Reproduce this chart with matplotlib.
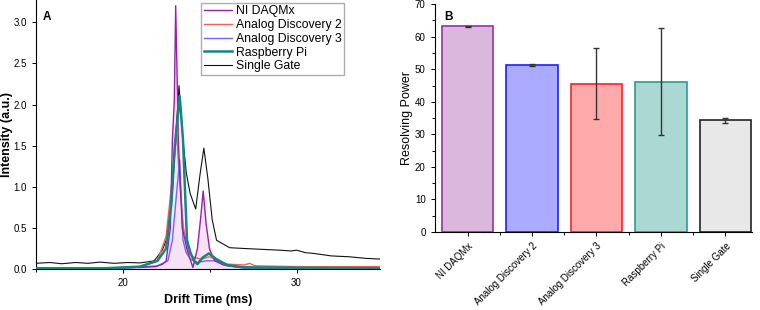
import numpy as np
import matplotlib
matplotlib.use("Agg")
from matplotlib import pyplot as plt
from matplotlib.ticker import MultipleLocator, FixedLocator

plt.rcParams['font.family'] = ['Liberation Sans', 'DejaVu Sans']

# --- panel A: drift time spectra ---
ni_t = [15, 18, 21, 21.9, 22.3, 22.5, 22.74, 22.86, 22.97, 23.05, 23.16, 23.2, 23.43, 23.7, 24.04,
        24.3, 24.5, 24.63, 24.8, 25.0, 25.3, 25.8, 26.5, 28, 35]
ni_i = [0.01, 0.01, 0.02, 0.03, 0.06, 0.1, 0.5, 1.57, 2.05, 3.2, 2.05, 1.57, 0.5, 0.24, 0.02,
        0.25, 0.65, 0.95, 0.55, 0.24, 0.1, 0.05, 0.03, 0.02, 0.01]

ad2_t = [15, 19, 21, 22.0, 22.5, 22.8, 23.1, 23.3, 23.5, 23.8, 24.0, 24.5, 25.0, 25.5,
         26.0, 27.0, 27.3, 27.6, 30, 35]
ad2_i = [0.01, 0.01, 0.03, 0.1, 0.4, 1.0, 1.65, 1.0, 0.5, 0.2, 0.15, 0.12, 0.15, 0.1,
         0.06, 0.05, 0.07, 0.04, 0.03, 0.03]

ad3_t = [15, 20, 22.0, 22.6, 22.86, 23.05, 23.28, 23.47, 23.65, 23.9, 24.3, 24.8, 25.4, 26.0, 27, 35]
ad3_i = [0.01, 0.01, 0.04, 0.1, 0.35, 0.8, 1.33, 0.35, 0.2, 0.12, 0.08, 0.1, 0.1, 0.04, 0.01, 0.01]

rpi_t = [15, 19, 21, 22.0, 22.5, 22.8, 23.0, 23.28, 23.47, 23.7, 23.9, 24.1, 24.3, 24.6, 24.96,
         25.4, 26.0, 27, 35]
rpi_i = [0.01, 0.01, 0.03, 0.1, 0.25, 0.8, 1.5, 2.1, 1.57, 0.35, 0.2, 0.1, 0.06, 0.14, 0.19,
         0.12, 0.05, 0.02, 0.01]

sg_t = [15, 15.8, 16.5, 17.3, 18, 18.7, 19.5, 20.3, 21, 21.5, 21.8, 22.0, 22.3, 22.6, 22.85, 23.05,
        23.24, 23.47, 23.66, 23.88, 24.2, 24.45, 24.67, 24.9, 25.15, 25.4, 26.15, 27, 28, 29,
        29.7, 30.0, 30.5, 31, 32, 33, 34, 35]
sg_i = [0.07, 0.08, 0.065, 0.08, 0.07, 0.085, 0.07, 0.08, 0.075, 0.09, 0.1, 0.15, 0.24, 0.4, 0.9, 1.6,
        2.23, 1.57, 1.17, 0.92, 0.73, 1.15, 1.47, 1.1, 0.6, 0.35, 0.26, 0.25, 0.24, 0.23,
        0.22, 0.23, 0.2, 0.19, 0.16, 0.15, 0.13, 0.12]

# --- panel B: resolving power ---
devices = ["NI DAQMx", "Analog Discovery 2", "Analog Discovery 3", "Raspberry Pi", "Single Gate"]
rp = [63.2, 51.3, 45.5, 46.2, 34.3]
rp_err = [0.1, 0.2, 10.9, 16.5, 0.8]
bar_fill = ["#dbb8db", "#aaaaff", "#ffaaaa", "#acd8d4", "#e8e8e8"]
bar_edge = ["#9b2fa8", "#1f1fff", "#ff2020", "#2a9d94", "#222222"]

fig = plt.figure(figsize=(7.6, 3.1), dpi=100)

ax = fig.add_axes([0.047, 0.132, 0.453, 0.868])
ax.fill_between(ni_t, ni_i, color="#f5e2f5", hatch="::::", edgecolor="#cf98cf", linewidth=0)
ax.plot(sg_t, sg_i, color="#111111", lw=0.8, label="Single Gate", zorder=3)
ax.plot(ad2_t, ad2_i, color="#ff5a5a", lw=1.0, label="Analog Discovery 2", zorder=4)
ax.plot(ad3_t, ad3_i, color="#6a6aff", lw=1.0, label="Analog Discovery 3", zorder=4)
ax.plot(ni_t, ni_i, color="#9b1fa8", lw=1.0, label="NI DAQMx", zorder=5)
ax.plot(rpi_t, rpi_i, color="#14877d", lw=1.8, label="Raspberry Pi", zorder=6)
ax.set_xlim(15, 34.8)
ax.set_ylim(0, 3.27)
ax.xaxis.set_major_locator(MultipleLocator(10))
ax.xaxis.set_minor_locator(MultipleLocator(5))
ax.yaxis.set_major_locator(MultipleLocator(0.5))
ax.yaxis.set_major_formatter(matplotlib.ticker.FormatStrFormatter('%.1f'))
ax.spines["top"].set_visible(False)
ax.spines["right"].set_visible(False)
ax.tick_params(labelsize=7, length=3, width=0.7)
ax.tick_params(which="minor", length=2, width=0.7)
ax.set_xlabel("Drift Time (ms)", fontsize=9, fontweight="bold")
ax.set_ylabel("Intensity (a.u.)", fontsize=9, fontweight="bold", labelpad=0)
ax.text(0.02, 0.96, "A", transform=ax.transAxes, fontsize=8.5, fontweight="bold", va="top")
h, l = ax.get_legend_handles_labels()
order = [l.index(n) for n in ["NI DAQMx", "Analog Discovery 2", "Analog Discovery 3", "Raspberry Pi", "Single Gate"]]
ax.legend([h[i] for i in order], [l[i] for i in order], loc="upper right", bbox_to_anchor=(0.895, 0.99),
          fontsize=8.8, frameon=True, fancybox=False, edgecolor="#999999", handlelength=2.3,
          labelspacing=0.15, borderpad=0.2, handletextpad=0.3, borderaxespad=0.0)

bx = fig.add_axes([0.572, 0.2516, 0.418, 0.735])
xs = np.arange(len(devices))
bx.bar(xs, rp, width=0.8, color=bar_fill, edgecolor=bar_edge, linewidth=1.2)
bx.errorbar(xs, rp, yerr=rp_err, fmt="none", ecolor="#333333", elinewidth=1, capsize=2.5, capthick=1)
bx.set_xlim(-0.51, 4.42)
bx.set_ylim(0, 70)
bx.set_xticks(xs)
bx.set_xticklabels(devices, rotation=45, ha="right", rotation_mode="anchor", fontsize=7.7)
bx.xaxis.set_minor_locator(FixedLocator(xs[:-1] + 0.5))
bx.yaxis.set_major_locator(MultipleLocator(10))
bx.yaxis.set_minor_locator(MultipleLocator(5))
bx.spines["top"].set_visible(False)
bx.spines["right"].set_visible(False)
bx.tick_params(labelsize=7, length=3, width=0.7)
bx.tick_params(which="minor", length=2, width=0.7)
bx.set_ylabel("Resolving Power", fontsize=9, labelpad=1)
bx.text(0.03, 0.97, "B", transform=bx.transAxes, fontsize=8.5, fontweight="bold", va="top")

fig.savefig("out.png", dpi=100)
